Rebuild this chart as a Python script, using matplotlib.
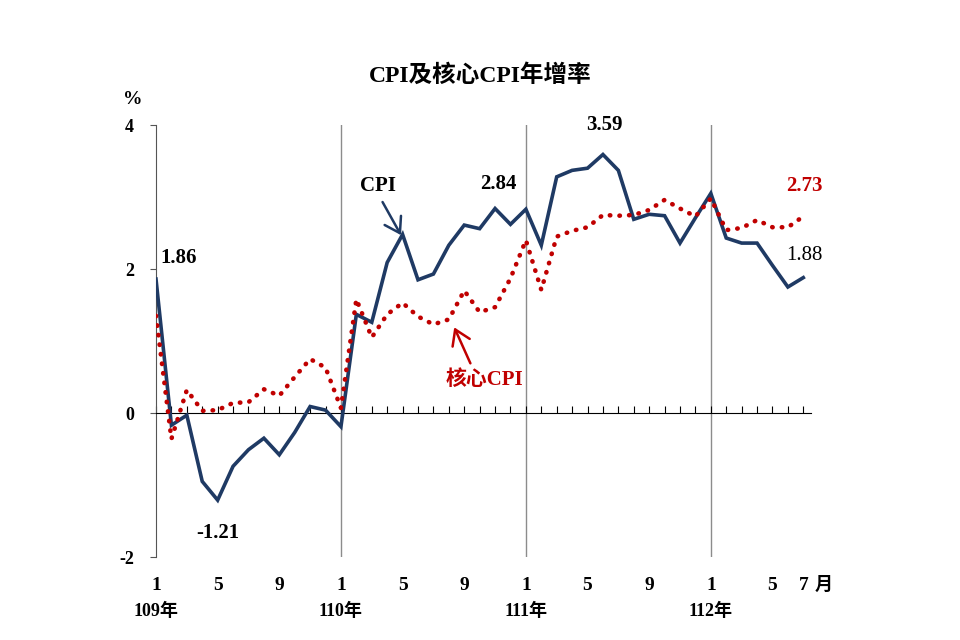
import matplotlib
matplotlib.use("Agg")
import matplotlib.pyplot as plt
import numpy as np

plt.rcParams['font.family'] = ['Liberation Serif', 'Noto Sans CJK TC']
plt.rcParams['font.weight'] = 'bold'

# --- 資料 (109年1月 ~ 112年7月) ---
cpi = [1.86, -0.17, -0.03, -0.95, -1.21, -0.74, -0.51, -0.35, -0.58, -0.27, 0.09, 0.04,
       -0.19, 1.37, 1.26, 2.09, 2.48, 1.85, 1.93, 2.33, 2.61, 2.56, 2.84, 2.62,
       2.83, 2.33, 3.28, 3.37, 3.40, 3.59, 3.37, 2.69, 2.76, 2.74, 2.36, 2.71,
       3.05, 2.43, 2.36, 2.36, 2.05, 1.75, 1.88]
core_cpi = [1.35, -0.36, 0.32, 0.03, 0.04, 0.14, 0.15, 0.33, 0.24, 0.50, 0.75, 0.63,
            0.07, 1.58, 1.05, 1.37, 1.53, 1.34, 1.23, 1.30, 1.70, 1.40, 1.47, 1.87,
            2.40, 1.71, 2.45, 2.53, 2.58, 2.75, 2.74, 2.75, 2.82, 2.96, 2.84, 2.73,
            2.98, 2.54, 2.57, 2.68, 2.58, 2.58, 2.73]
month_ticks = [0, 4, 8, 12, 16, 20, 24, 28, 32, 36, 40, 42]
month_labels = ['1', '5', '9', '1', '5', '9', '1', '5', '9', '1', '5', '7']
year_pos = [0, 12, 24, 36]
year_labels = ['109年', '110年', '111年', '112年']

navy = '#1F3A64'
red = '#C00000'

x = np.arange(len(cpi))

fig = plt.figure(figsize=(9.6, 6.4), dpi=100)
ax = fig.add_axes([156/960, 83/640, 655/960, 432/640])

for yp in year_pos[1:]:
    ax.axvline(yp, color='#8C8C8C', linewidth=1.0, zorder=1)

ax.plot(x, cpi, color=navy, linewidth=2.6, solid_joinstyle='miter', zorder=3)
ax.plot(x, core_cpi, color=red, linewidth=3.3, linestyle=(0, (0.1, 2.0)),
        dash_capstyle='round', zorder=4)

ax.set_xlim(0, 42.5)
ax.set_ylim(-2, 4)
ax.set_yticks([-2, 0, 2, 4])
ax.set_yticklabels(['-2', '0', '2', '4'])

# 軸線
for s in ['top', 'right']:
    ax.spines[s].set_visible(False)
ax.spines['left'].set_color('#555555')
ax.spines['bottom'].set_position(('data', 0))
ax.spines['bottom'].set_color('black')
ax.set_xticks(np.arange(0, 43))
ax.tick_params(axis='x', direction='in', length=5, labelbottom=False, color='black')
ax.tick_params(axis='y', direction='out', length=4, pad=12, labelsize=13, color='#555555')

# 月份與年份標籤
trans = ax.get_xaxis_transform()
for mt, ml in zip(month_ticks, month_labels):
    ax.text(mt, -0.065, ml, transform=trans, ha='center', va='center', fontsize=14)
ax.text(43.3, -0.065, '月', transform=trans, ha='center', va='center', fontsize=13)
for yp, yl in zip(year_pos, year_labels):
    ax.text(yp, -0.125, yl, transform=trans, ha='center', va='center', fontsize=13)
ax.text(-0.035, 1.058, '%', transform=ax.transAxes, ha='center', va='center', fontsize=14)

fig.text(0.5, 1 - 75/640, 'CPI及核心CPI年增率', ha='center', va='center',
         fontsize=17, fontweight='bold')

# 數值標註
ax.text(1.5, 2.15, '1.86', ha='center', va='center', fontsize=15)
ax.text(4.0, -1.67, '-1.21', ha='center', va='center', fontsize=15)
ax.text(22.2, 3.18, '2.84', ha='center', va='center', fontsize=15)
ax.text(29.1, 4.0, '3.59', ha='center', va='center', fontsize=15)
ax.text(42.1, 3.15, '2.73', ha='center', va='center', fontsize=15, color=red)
ax.text(42.1, 2.19, '1.88', ha='center', va='center', fontsize=15, fontweight='normal')

arrow_kw = dict(lw=1.8, shrinkA=0, shrinkB=0, mutation_scale=15)
ax.text(14.4, 3.15, 'CPI', ha='center', va='center', fontsize=15, color='black')
ax.annotate('', xy=(15.9, 2.47), xytext=(14.7, 2.93),
            arrowprops=dict(arrowstyle='->, head_length=0.7, head_width=0.45', color=navy, **arrow_kw))
ax.text(21.3, 0.46, '核心CPI', ha='center', va='center', fontsize=15, color=red)
ax.annotate('', xy=(19.35, 1.19), xytext=(20.4, 0.69),
            arrowprops=dict(arrowstyle='->, head_length=0.7, head_width=0.45', color=red, **arrow_kw))

fig.savefig('out.png', dpi=100)
